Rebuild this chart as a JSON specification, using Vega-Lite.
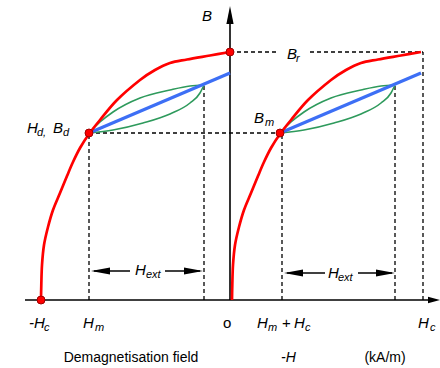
{
  "$schema": "https://vega.github.io/schema/vega-lite/v6.json",
  "width": 440,
  "height": 368,
  "padding": 0,
  "autosize": {"type": "fit", "contains": "padding"},
  "background": "white",
  "config": {"view": {"stroke": null}},
  "datasets": {
    "axes": [
      {"x": -205, "y": 0, "x2": 206, "y2": 0},
      {"x": 0, "y": 0, "x2": 0, "y2": 282}
    ],
    "dashes": [
      {"x": -141, "y": 0, "x2": -141, "y2": 167},
      {"x": -26, "y": 0, "x2": -26, "y2": 215},
      {"x": -141, "y": 167, "x2": 52, "y2": 167},
      {"x": 0, "y": 248, "x2": 48, "y2": 248},
      {"x": 80, "y": 248, "x2": 193, "y2": 248},
      {"x": 193, "y": 0, "x2": 193, "y2": 248},
      {"x": 52, "y": 0, "x2": 52, "y2": 167},
      {"x": 165, "y": 0, "x2": 165, "y2": 214}
    ],
    "red": [
      {"c": "L", "i": 0, "x": -189, "y": 0},
      {"c": "L", "i": 1, "x": -188.7, "y": 15},
      {"c": "L", "i": 2, "x": -188, "y": 35},
      {"c": "L", "i": 3, "x": -186, "y": 55},
      {"c": "L", "i": 4, "x": -182, "y": 73},
      {"c": "L", "i": 5, "x": -177, "y": 90},
      {"c": "L", "i": 6, "x": -170, "y": 107},
      {"c": "L", "i": 7, "x": -163, "y": 124},
      {"c": "L", "i": 8, "x": -157, "y": 138},
      {"c": "L", "i": 9, "x": -150, "y": 152},
      {"c": "L", "i": 10, "x": -141, "y": 166},
      {"c": "L", "i": 11, "x": -130, "y": 180},
      {"c": "L", "i": 12, "x": -113, "y": 200},
      {"c": "L", "i": 13, "x": -90, "y": 220},
      {"c": "L", "i": 14, "x": -75, "y": 230},
      {"c": "L", "i": 15, "x": -60, "y": 237},
      {"c": "L", "i": 16, "x": -43, "y": 240.5},
      {"c": "L", "i": 17, "x": -20, "y": 244.5},
      {"c": "L", "i": 18, "x": 0, "y": 248},
      {"c": "R", "i": 0, "x": 2, "y": 0},
      {"c": "R", "i": 1, "x": 2.3, "y": 15},
      {"c": "R", "i": 2, "x": 3, "y": 35},
      {"c": "R", "i": 3, "x": 5, "y": 55},
      {"c": "R", "i": 4, "x": 9, "y": 73},
      {"c": "R", "i": 5, "x": 14, "y": 90},
      {"c": "R", "i": 6, "x": 21, "y": 107},
      {"c": "R", "i": 7, "x": 28, "y": 124},
      {"c": "R", "i": 8, "x": 34, "y": 138},
      {"c": "R", "i": 9, "x": 41, "y": 152},
      {"c": "R", "i": 10, "x": 50, "y": 166},
      {"c": "R", "i": 11, "x": 61, "y": 180},
      {"c": "R", "i": 12, "x": 78, "y": 200},
      {"c": "R", "i": 13, "x": 101, "y": 220},
      {"c": "R", "i": 14, "x": 116, "y": 230},
      {"c": "R", "i": 15, "x": 131, "y": 237},
      {"c": "R", "i": 16, "x": 148, "y": 240.5},
      {"c": "R", "i": 17, "x": 171, "y": 244.5},
      {"c": "R", "i": 18, "x": 191, "y": 248}
    ],
    "green": [
      {"c": "LU", "i": 0, "x": -141, "y": 167},
      {"c": "LU", "i": 1, "x": -130, "y": 178},
      {"c": "LU", "i": 2, "x": -117, "y": 188},
      {"c": "LU", "i": 3, "x": -90, "y": 202},
      {"c": "LU", "i": 4, "x": -60, "y": 210},
      {"c": "LU", "i": 5, "x": -40, "y": 214},
      {"c": "LU", "i": 6, "x": -26, "y": 215},
      {"c": "LL", "i": 0, "x": -141, "y": 167},
      {"c": "LL", "i": 1, "x": -117, "y": 170},
      {"c": "LL", "i": 2, "x": -87, "y": 177},
      {"c": "LL", "i": 3, "x": -60, "y": 186},
      {"c": "LL", "i": 4, "x": -40, "y": 197},
      {"c": "LL", "i": 5, "x": -30, "y": 207},
      {"c": "LL", "i": 6, "x": -26, "y": 215},
      {"c": "RU", "i": 0, "x": 50, "y": 167},
      {"c": "RU", "i": 1, "x": 61, "y": 178},
      {"c": "RU", "i": 2, "x": 74, "y": 188},
      {"c": "RU", "i": 3, "x": 101, "y": 202},
      {"c": "RU", "i": 4, "x": 131, "y": 210},
      {"c": "RU", "i": 5, "x": 151, "y": 214},
      {"c": "RU", "i": 6, "x": 165, "y": 215},
      {"c": "RL", "i": 0, "x": 50, "y": 167},
      {"c": "RL", "i": 1, "x": 74, "y": 170},
      {"c": "RL", "i": 2, "x": 104, "y": 177},
      {"c": "RL", "i": 3, "x": 131, "y": 186},
      {"c": "RL", "i": 4, "x": 151, "y": 197},
      {"c": "RL", "i": 5, "x": 161, "y": 207},
      {"c": "RL", "i": 6, "x": 165, "y": 215}
    ],
    "blue": [
      {"x": -141, "y": 167, "x2": 0, "y2": 227},
      {"x": 50, "y": 167, "x2": 191, "y2": 227}
    ],
    "dots": [
      {"x": -189, "y": 0},
      {"x": 0, "y": 248},
      {"x": -141, "y": 167},
      {"x": 50, "y": 167}
    ],
    "arrowLines": [
      {"x": -136, "y": 29, "x2": -100, "y2": 29},
      {"x": -65, "y": 29, "x2": -30, "y2": 29},
      {"x": 57, "y": 27, "x2": 95, "y2": 27},
      {"x": 128, "y": 27, "x2": 162, "y2": 27}
    ],
    "heads": [
      {"dir": "L", "x": -139, "y": 29},
      {"dir": "R", "x": -27, "y": 29},
      {"dir": "L", "x": 54, "y": 27},
      {"dir": "R", "x": 165, "y": 27}
    ],
    "axisHeads": [
      {"dir": "U", "x": 0, "y": 294},
      {"dir": "R", "x": 210, "y": 0}
    ],
    "mainText": [
      {"t": "B", "x": -28, "y": 279},
      {"t": "B", "x": 57, "y": 241},
      {"t": "B", "x": 24, "y": 177},
      {"t": "H", "x": -203, "y": 167},
      {"t": "B", "x": -177, "y": 167},
      {"t": "H", "x": -95, "y": 25},
      {"t": "H", "x": 98, "y": 22},
      {"t": "-H", "x": -201, "y": -28},
      {"t": "H", "x": -147, "y": -28},
      {"t": "H", "x": 27, "y": -28},
      {"t": "H", "x": 64, "y": -28},
      {"t": "H", "x": 188, "y": -28}
    ],
    "subText": [
      {"t": "r", "x": 66, "y": 238},
      {"t": "m", "x": 35, "y": 174},
      {"t": "d,", "x": -193, "y": 164},
      {"t": "d", "x": -167, "y": 164},
      {"t": "ext", "x": -84, "y": 22},
      {"t": "ext", "x": 108, "y": 19},
      {"t": "c", "x": -186, "y": -31},
      {"t": "m", "x": -135, "y": -31},
      {"t": "m", "x": 38, "y": -31},
      {"t": "c", "x": 75, "y": -31},
      {"t": "c", "x": 200, "y": -31}
    ],
    "plainText": [
      {"t": "o", "x": -7, "y": -28},
      {"t": "+", "x": 52, "y": -28}
    ],
    "bottomText": [
      {"t": "Demagnetisation field", "x": -99, "y": -62},
      {"t": "(kA/m)", "x": 155, "y": -62}
    ],
    "bottomItalic": [
      {"t": "-H", "x": 51, "y": -62}
    ]
  },
  "encoding": {
    "x": {"field": "x", "type": "quantitative", "axis": null, "scale": {"domain": [-230, 210], "nice": false, "zero": false}},
    "y": {"field": "y", "type": "quantitative", "axis": null, "scale": {"domain": [-68, 300], "nice": false, "zero": false}}
  },
  "layer": [
    {
      "data": {"name": "axes"},
      "mark": {"type": "rule", "color": "black", "strokeWidth": 1.6},
      "encoding": {"x2": {"field": "x2"}, "y2": {"field": "y2"}}
    },
    {
      "data": {"name": "dashes"},
      "mark": {"type": "rule", "color": "black", "strokeWidth": 1.3, "strokeDash": [4, 3]},
      "encoding": {"x2": {"field": "x2"}, "y2": {"field": "y2"}}
    },
    {
      "data": {"name": "green"},
      "mark": {"type": "line", "color": "#2e9a5c", "strokeWidth": 1.6, "interpolate": "monotone"},
      "encoding": {"detail": {"field": "c"}, "order": {"field": "i", "type": "quantitative"}}
    },
    {
      "data": {"name": "blue"},
      "mark": {"type": "rule", "color": "#3d6ff5", "strokeWidth": 3.2},
      "encoding": {"x2": {"field": "x2"}, "y2": {"field": "y2"}}
    },
    {
      "data": {"name": "red"},
      "mark": {"type": "line", "color": "#ff0000", "strokeWidth": 2.7, "interpolate": "cardinal"},
      "encoding": {"detail": {"field": "c"}, "order": {"field": "i", "type": "quantitative"}}
    },
    {
      "data": {"name": "dots"},
      "mark": {"type": "point", "shape": "circle", "filled": true, "fill": "#ff0000", "stroke": "#a00000", "strokeWidth": 1, "size": 64, "opacity": 1}
    },
    {
      "data": {"name": "arrowLines"},
      "mark": {"type": "rule", "color": "black", "strokeWidth": 1.6},
      "encoding": {"x2": {"field": "x2"}, "y2": {"field": "y2"}}
    },
    {
      "data": {"name": "heads"},
      "transform": [{"filter": "datum.dir === 'L'"}],
      "mark": {"type": "point", "shape": "M0,0L2,-0.37L2,0.37Z", "filled": true, "fill": "black", "strokeWidth": 0, "size": 361, "opacity": 1}
    },
    {
      "data": {"name": "heads"},
      "transform": [{"filter": "datum.dir === 'R'"}],
      "mark": {"type": "point", "shape": "M0,0L-2,-0.37L-2,0.37Z", "filled": true, "fill": "black", "strokeWidth": 0, "size": 361, "opacity": 1}
    },
    {
      "data": {"name": "axisHeads"},
      "transform": [{"filter": "datum.dir === 'U'"}],
      "mark": {"type": "point", "shape": "M0,0L-0.4,2L0.4,2Z", "filled": true, "fill": "black", "strokeWidth": 0, "size": 324, "opacity": 1}
    },
    {
      "data": {"name": "axisHeads"},
      "transform": [{"filter": "datum.dir === 'R'"}],
      "mark": {"type": "point", "shape": "M0,0L-2,-0.55L-2,0.55Z", "filled": true, "fill": "black", "strokeWidth": 0, "size": 144, "opacity": 1}
    },
    {
      "data": {"name": "mainText"},
      "mark": {"type": "text", "font": "Liberation Sans", "fontSize": 15, "fontStyle": "italic", "align": "left", "baseline": "alphabetic", "color": "black"},
      "encoding": {"text": {"field": "t"}}
    },
    {
      "data": {"name": "subText"},
      "mark": {"type": "text", "font": "Liberation Sans", "fontSize": 11, "fontStyle": "italic", "align": "left", "baseline": "alphabetic", "color": "black"},
      "encoding": {"text": {"field": "t"}}
    },
    {
      "data": {"name": "plainText"},
      "mark": {"type": "text", "font": "Liberation Sans", "fontSize": 15, "align": "left", "baseline": "alphabetic", "color": "black"},
      "encoding": {"text": {"field": "t"}}
    },
    {
      "data": {"name": "bottomText"},
      "mark": {"type": "text", "font": "Liberation Sans", "fontSize": 14, "align": "center", "baseline": "alphabetic", "color": "black"},
      "encoding": {"text": {"field": "t"}}
    },
    {
      "data": {"name": "bottomItalic"},
      "mark": {"type": "text", "font": "Liberation Sans", "fontSize": 14, "fontStyle": "italic", "align": "left", "baseline": "alphabetic", "color": "black"},
      "encoding": {"text": {"field": "t"}}
    }
  ]
}
